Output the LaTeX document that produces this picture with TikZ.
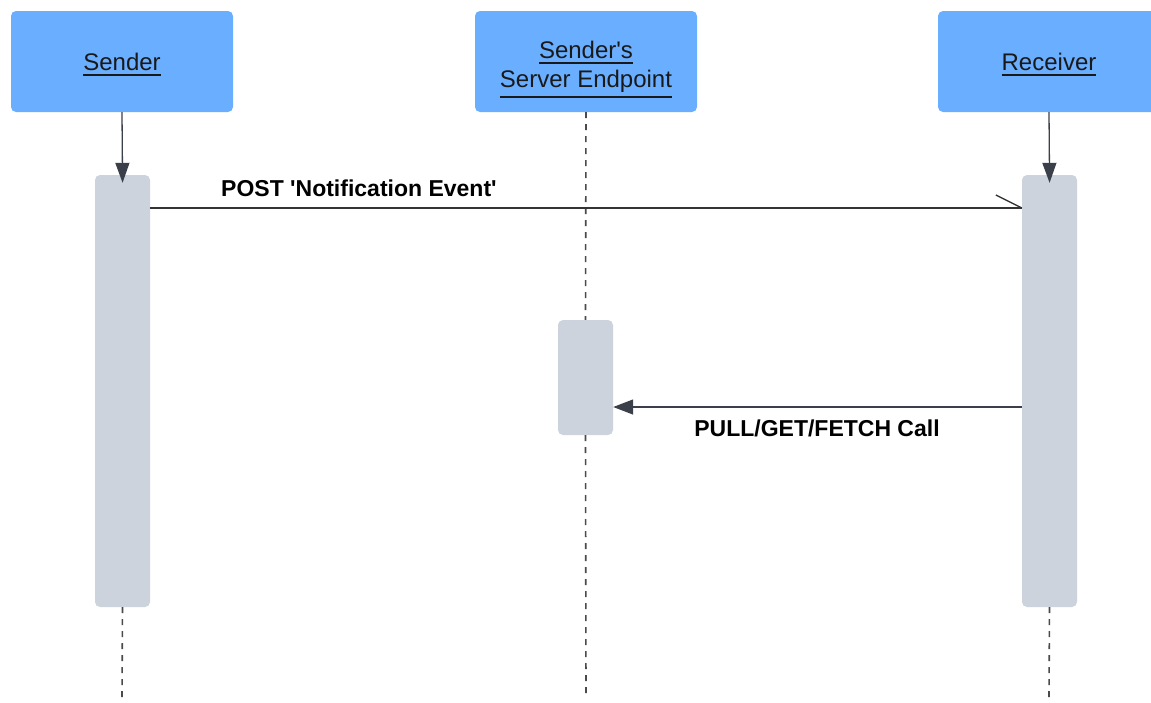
\documentclass[tikz,border=0pt]{standalone}
\usepackage{fontspec}
\setmainfont{Liberation Sans}
\usetikzlibrary{arrows.meta}
% text with a thick rule under it
\newcommand\thickul[1]{\leavevmode\setbox0\hbox{#1}\vtop{\copy0\kern 4pt\hrule height 1.6pt width \wd0}}
\definecolor{actorblue}{HTML}{6AAEFF}
\definecolor{barfill}{HTML}{CDD3DC}
\definecolor{tipdark}{HTML}{3A3F4A}
\definecolor{lineink}{HTML}{333333}
\definecolor{dashink}{HTML}{4A4A4A}
\tikzset{
  actor/.style={fill=actorblue, rounded corners=5pt, minimum width=222pt, minimum height=101pt,
    inner sep=0pt},
  actortext/.style={inner sep=0pt, align=center, font=\fontsize{24}{30}\selectfont, text=black!90},
  activation/.style={fill=barfill, rounded corners=5pt, minimum width=55pt, inner sep=0pt},
  lifeline/.style={draw=dashink, line width=1.6pt, dash pattern=on 6pt off 6pt},
  create/.style={draw=tipdark, line width=1.3pt, -{Triangle[length=20pt,width=14pt]}, shorten >=-8pt},
  reply/.style={draw=tipdark, line width=1.3pt, -{Triangle[length=20pt,width=15pt]}},
  message/.style={draw=lineink, line width=1.3pt},
  msglabel/.style={font=\bfseries\fontsize{23}{27}\selectfont, inner sep=0pt}
}
\begin{document}
\begin{tikzpicture}[x=1pt,y=-1pt]
\useasboundingbox (0,0) rectangle (1151,702);
\clip (0,0) rectangle (1151,702);

% participants
\node[actor] (snd) at (122,61.5) {};
\node[actor] (srv) at (586,61.5) {};
\node[actor] (rcv) at (1049,61.5) {};
\node[actortext, anchor=base] (sndt) at (122,70) {\thickul{Sender}};
\node[actortext, anchor=base] (srvt1) at (586,58) {\thickul{Sender\textquotesingle s}};
\node[actortext, anchor=base] (srvt2) at (586,87) {\thickul{Server Endpoint}};
\node[actortext, anchor=base] (rcvt) at (1049,70) {\thickul{Receiver}};

% activation bars
\node[activation, minimum height=432pt] (sa) at (122.5,391) {};
\node[activation, minimum height=432pt] (ra) at (1049.5,391) {};
\node[activation, minimum height=115pt] (va) at (585.5,377.5) {};

% ends of the lifelines
\coordinate (sEnd) at (122,697);
\coordinate (vEnd) at (586,697);
\coordinate (rEnd) at (1049,697);

% lifelines
\draw[lifeline] (sa.south) -- (sEnd);
\draw[lifeline] (ra.south) -- (rEnd);
\draw[lifeline] (srv.south) -- (va.north);
\draw[lifeline] (va.south) -- (vEnd);

% activation arrows
\draw[create] (snd.south) -- (sa.north);
\draw[create] (rcv.south) -- (ra.north);

% message rows
\coordinate (m1) at (0,208);
\coordinate (m2) at (0,407);

% POST message with a half (open) arrow head
\draw[message] (sa.east |- m1) -- (ra.west |- m1) coordinate (m1tip);
\draw[message] (m1tip) -- ++(-26,-13);
\node[msglabel, anchor=west] (l1) at (221,188) {POST \textquotesingle Notification Event\textquotesingle};

% PULL/GET/FETCH call back to the sender's server
\draw[reply] (ra.west |- m2) -- (va.east |- m2);
\node[msglabel] (l2) at (817,428) {PULL/GET/FETCH Call};
\end{tikzpicture}
\end{document}
